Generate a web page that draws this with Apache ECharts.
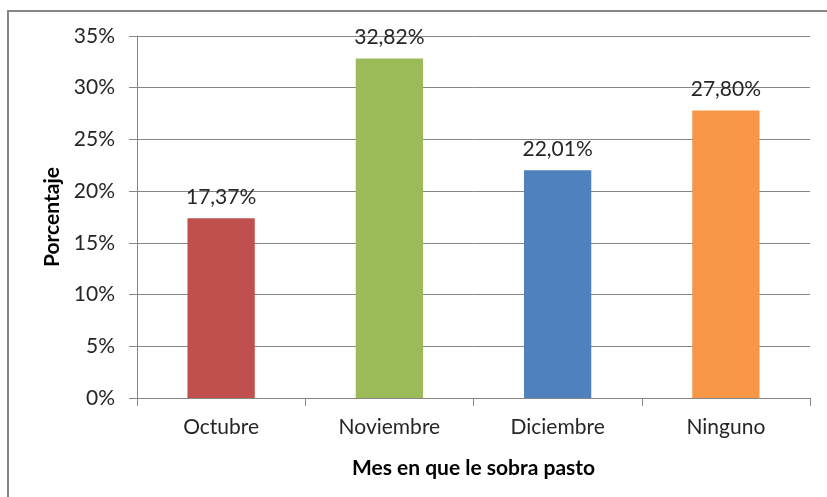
<!DOCTYPE html>
<html>
<head>
<meta charset="utf-8">
<script src="https://cdn.jsdelivr.net/npm/echarts@6/dist/echarts.min.js"></script>
<style>
  html, body { margin: 0; padding: 0; background: #fff; }
  #chart { width: 827px; height: 497px; }
</style>
</head>
<body>
<div id="chart"></div>
<script>
const categories = ['Octubre', 'Noviembre', 'Diciembre', 'Ninguno']
const values = [17.37, 32.82, 22.01, 27.80]
const barColors = ['#C0504D', '#9BBB59', '#4F81BD', '#F79646']
const yTicks = [0, 5, 10, 15, 20, 25, 30, 35]

const font = 'Lato, "Open Sans", sans-serif'
const chart = echarts.init(document.getElementById('chart'))

chart.setOption({
  backgroundColor: '#fff',
  animation: false,
  graphic: [{
    type: 'rect',
    shape: { x: 8, y: 11, width: 840, height: 520 },
    style: { fill: 'none', stroke: '#868686', lineWidth: 2 },
    silent: true
  }],
  grid: { left: 137, right: 17, top: 36, bottom: 99 },
  xAxis: {
    type: 'category',
    data: categories,
    name: 'Mes en que le sobra pasto',
    nameLocation: 'middle',
    nameGap: 60,
    nameTextStyle: { fontFamily: font, fontSize: 21, fontWeight: 'bold', color: '#000' },
    axisLine: { lineStyle: { color: '#868686', width: 1 } },
    axisTick: { show: true, length: 8, lineStyle: { color: '#868686' } },
    axisLabel: { fontFamily: font, fontSize: 21, color: '#262626', margin: 19 }
  },
  yAxis: {
    type: 'value',
    min: yTicks[0],
    max: yTicks[yTicks.length - 1],
    interval: 5,
    name: 'Porcentaje',
    nameLocation: 'middle',
    nameGap: 72,
    nameRotate: 90,
    nameTextStyle: { fontFamily: font, fontSize: 21, fontWeight: 'bold', color: '#000' },
    axisLine: { show: true, lineStyle: { color: '#868686', width: 1 } },
    axisTick: { show: true, length: 8, lineStyle: { color: '#868686' } },
    axisLabel: { fontFamily: font, fontSize: 21, color: '#262626', margin: 22, formatter: v => v + '%' },
    splitLine: { show: true, lineStyle: { color: '#868686', width: 1 } }
  },
  series: [{
    type: 'bar',
    data: values.map((v, i) => ({ value: v, itemStyle: { color: barColors[i] } })),
    barWidth: '40%',
    label: {
      show: true,
      position: 'top',
      distance: 11,
      fontFamily: font,
      fontSize: 21,
      color: '#262626',
      formatter: p => p.value.toFixed(2).replace('.', ',') + '%'
    }
  }]
})
</script>
</body>
</html>
